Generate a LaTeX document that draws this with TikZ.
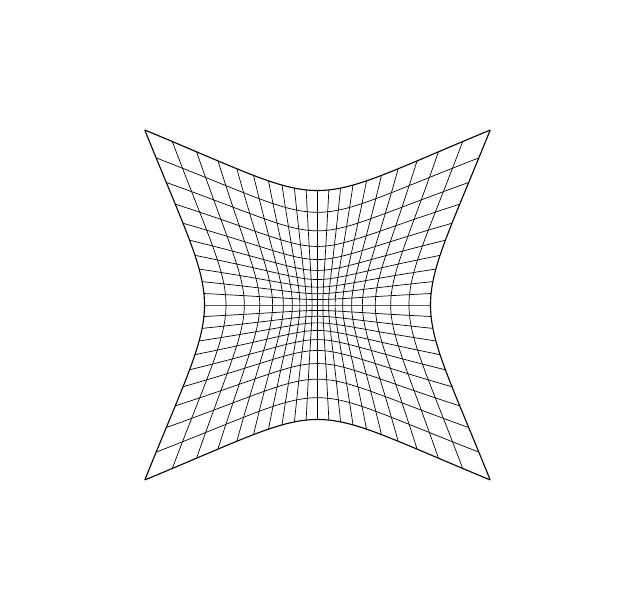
\documentclass[tikz,border=0pt]{standalone}
\tikzset{
  gridline/.style={black, line width=0.7pt},
  borderline/.style={black, line width=1.1pt}
}
\def\A{53.3}
\def\B{54.0}
\def\U{1.12}
\begin{document}
\begin{tikzpicture}[x=1pt,y=-1pt]
\useasboundingbox (0,0) rectangle (625,608);
\begin{scope}[shift={(317.5,305)}]
\foreach \i in {-9,...,9}{
  \pgfmathsetmacro\t{\i/10}
  \draw[gridline] plot[domain=-1:1, samples=41, smooth]
    ({\A*\t*(1+\U*(\t*\t+\x*\x))},{\B*\x*(1+\U*(\t*\t+\x*\x))});
  \draw[gridline] plot[domain=-1:1, samples=41, smooth]
    ({\A*\x*(1+\U*(\t*\t+\x*\x))},{\B*\t*(1+\U*(\t*\t+\x*\x))});
}
\foreach \t in {-1,1}{
  \draw[borderline] plot[domain=-1:1, samples=61, smooth]
    ({\A*\t*(1+\U*(\t*\t+\x*\x))},{\B*\x*(1+\U*(\t*\t+\x*\x))});
  \draw[borderline] plot[domain=-1:1, samples=61, smooth]
    ({\A*\x*(1+\U*(\t*\t+\x*\x))},{\B*\t*(1+\U*(\t*\t+\x*\x))});
}
\end{scope}
\end{tikzpicture}
\end{document}
